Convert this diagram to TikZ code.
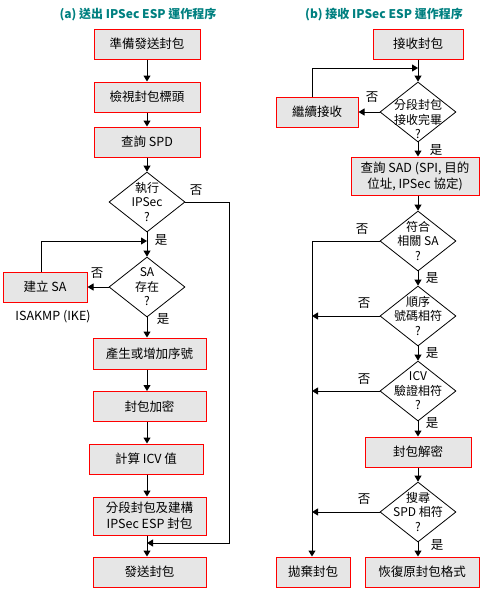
\documentclass[tikz,border=0pt]{standalone}
\usepackage{fontspec}
\setmainfont{Noto Sans CJK TC}
\usetikzlibrary{arrows.meta,shapes.geometric}
\definecolor{boxgray}{RGB}{230,230,230}
\definecolor{titleteal}{RGB}{0,128,128}
\begin{document}
\begin{tikzpicture}[x=1pt,y=-1pt,
 box/.style={draw=red, fill=boxgray, line width=1pt, minimum height=30pt, inner sep=0pt, align=center, font=\fontsize{12.5}{16}\selectfont},
 dia/.style={draw, diamond, minimum width=76pt, minimum height=60pt, inner sep=0pt, line width=0.8pt},
 dtext/.style={align=center, font=\fontsize{12}{14.5}\selectfont, inner sep=0pt},
 lbl/.style={font=\fontsize{12.5}{14}\selectfont, inner sep=0pt},
 conn/.style={line width=1pt},
 arr/.style={conn, -{Triangle[width=7pt,length=6pt]}},
 ttl/.style={font=\bfseries\fontsize{12}{14}\selectfont, text=titleteal}
]
\useasboundingbox (0,0) rectangle (480,590);
% ---------- (a) ----------
\node[ttl] (ta) at (138,15) {(a) 送出 IPSec ESP 運作程序};
\node[box, minimum width=106pt] (a1) at (147,44) {準備發送封包};
\node[box, minimum width=106pt] (a2) at (147,97) {檢視封包標頭};
\node[box, minimum width=106pt] (a3) at (147,142) {查詢 SPD};
\node[dia] (ad1) at (147,202) {};
\node[dtext] (ad1t) at (ad1) {執行\\IPSec\\?};
\node[dia] (ad2) at (147,287) {};
\node[dtext] (ad2t) at (ad2) {SA\\存在\\?};
\node[box, minimum width=84pt] (asa) at (45,287) {建立 SA};
\node[lbl] (aike) at (53,317) {ISAKMP (IKE)};
\node[box, minimum width=113pt, minimum height=31pt] (a4) at (149.5,353.5) {產生或增加序號};
\node[box, minimum width=113pt] (a5) at (149.5,406.5) {封包加密};
\node[box, minimum width=114pt] (a6) at (146,459) {計算 ICV 值};
\node[box, minimum width=113pt, minimum height=38pt] (a7) at (149.5,516) {分段封包及建構\\IPSec ESP 封包};
\node[box, minimum width=113pt] (a8) at (149.5,572) {發送封包};

\draw[arr] (a1) -- (a2);
\draw[arr] (a2) -- (a3);
\draw[arr] (a3) -- (ad1.north);
\draw[arr] (ad1.south) -- (ad2.north);
\draw[arr] (ad2.south) -- (a4.north -| ad2);
\draw[arr] (a4.south -| ad2) -- (a5.north -| ad2);
\draw[arr] (a5.south -| ad2) -- (a6.north -| ad2);
\draw[arr] (a6.south -| ad2) -- (a7.north -| ad2);
\draw[arr] (a7.south -| ad2) -- (a8.north -| ad2);
\draw[arr] (ad2.west) -- (asa.east);
\coordinate (am1) at (147,241);
\draw[arr] ([xshift=-4pt]asa.north) |- (am1);
\coordinate (ar) at (229,543);
\coordinate (am2) at (147,543);
\draw[arr] (ad1.east) -| (ar) -- (am2);

\node[lbl] (la1) at (196,190) {否};
\node[lbl] (la2) at (161,240) {是};
\node[lbl] (la3) at (97,273) {否};
\node[lbl] (la4) at (163,319) {是};

% ---------- (b) ----------
\node[ttl] (tb) at (384,15) {(b) 接收 IPSec ESP 運作程序};
\node[box, minimum width=90pt] (b1) at (418,44) {接收封包};
\node[dia] (bd1) at (418,112) {};
\node[dtext] (bd1t) at (418,119) {分段封包\\接收完畢\\?};
\node[box, minimum width=82pt] (bc) at (317,112) {繼續接收};
\node[box, minimum width=128pt, minimum height=38pt] (b2) at (415,176) {查詢 SAD (SPI, 目的\\位址, IPSec 協定)};
\node[dia] (bd2) at (418,241) {};
\node[dtext] (bd2t) at (bd2) {符合\\相關 SA\\?};
\node[dia] (bd3) at (418,316) {};
\node[dtext] (bd3t) at (bd3) {順序\\號碼相符\\?};
\node[dia] (bd4) at (418,391) {};
\node[dtext] (bd4t) at (bd4) {ICV\\驗證相符\\?};
\node[box, minimum width=106pt] (b3) at (418,452) {封包解密};
\node[dia] (bd5) at (418,512) {};
\node[dtext] (bd5t) at (bd5) {搜尋\\SPD 相符\\?};
\node[box, minimum width=74pt] (bx) at (313,572) {拋棄封包};
\node[box, minimum width=114pt] (b4) at (422,572) {恢復原封包格式};

\draw[arr] (b1) -- (bd1.north);
\coordinate (bm1) at (418,68);
\draw[arr] ([xshift=-5pt]bc.north) |- (bm1);
\draw[arr] (bd1.west) -- (bc.east);
\draw[arr] (bd1.south) -- (b2.north -| bd1);
\draw[arr] (b2.south -| bd1) -- (bd2.north);
\draw[arr] (bd2.south) -- (bd3.north);
\draw[arr] (bd3.south) -- (bd4.north);
\draw[arr] (bd4.south) -- (b3.north);
\draw[arr] (b3) -- (bd5.north);
\draw[arr] (bd5.south) -- (b4.north -| bd5);
\coordinate (bv) at (312,241);
\draw[arr] (bd2.west) -- (bv) -- (bx.north -| bv);
\draw[arr] (bd3.west) -- (bd3.west -| bv);
\draw[arr] (bd4.west) -- (bd4.west -| bv);
\draw[arr] (bd5.west) -- (bd5.west -| bv);

\node[lbl] (lb1) at (372,97) {否};
\node[lbl] (lb2) at (436,150) {是};
\node[lbl] (lb3) at (362,229) {否};
\node[lbl] (lb4) at (432,278) {是};
\node[lbl] (lb5) at (364,303) {否};
\node[lbl] (lb6) at (432,353) {是};
\node[lbl] (lb7) at (364,379) {否};
\node[lbl] (lb8) at (432,423) {是};
\node[lbl] (lb9) at (364,499) {否};
\node[lbl] (lb10) at (437,545) {是};
\end{tikzpicture}
\end{document}
